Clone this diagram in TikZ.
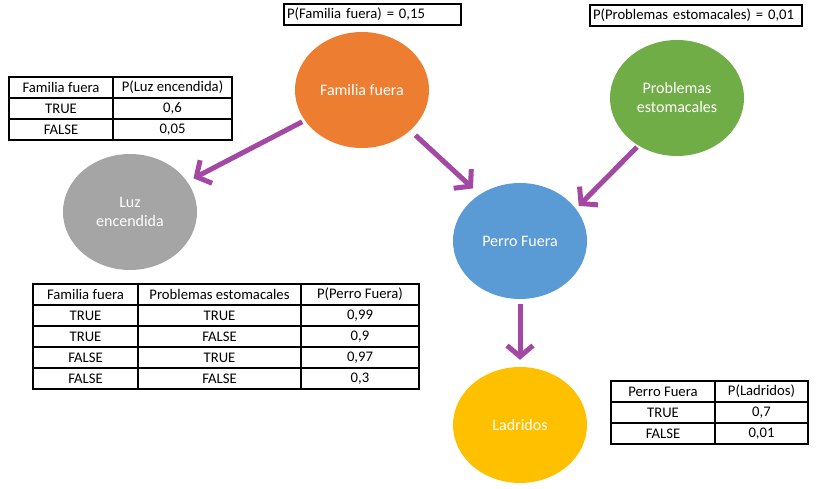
\documentclass[tikz,border=0pt]{standalone}
\usepackage{fontspec}
\setmainfont{Carlito}
\usetikzlibrary{shapes.geometric,arrows.meta,matrix}
\definecolor{naranja}{RGB}{237,125,49}
\definecolor{verde}{RGB}{112,173,71}
\definecolor{gris}{RGB}{165,165,165}
\definecolor{azul}{RGB}{91,155,213}
\definecolor{amarillo}{RGB}{255,192,0}
\definecolor{morado}{RGB}{163,73,164}
\begin{document}
\begin{tikzpicture}[x=1pt,y=-1pt]
		\tikzset{nodo/.style={ellipse,minimum width=134pt,minimum height=116pt,inner sep=0pt,text=white,align=center,font=\fontsize{16}{19}\selectfont},
			arco/.style={draw=morado,line width=5pt,-{Straight Barb[length=11pt,width=26pt]}},
			celda/.style={draw,line width=2pt,minimum height=21pt,inner sep=0pt,anchor=center,font=\fontsize{14.67}{17}\selectfont},
			tabla/.style={matrix of nodes,nodes={celda},column sep=-2pt,row sep=-2pt,inner sep=0pt,outer sep=0pt,anchor=north west},
			caja/.style={draw,line width=2pt,anchor=north west,minimum height=21pt,inner xsep=3pt,inner ysep=0pt,align=left,font=\fontsize{14.67}{17}\selectfont}}
		\fill[white] (0,0) rectangle (816,489);
		\useasboundingbox (0,0) rectangle (816,489);
		%Nodos
		\node[nodo,fill=naranja] (fam) at (362,90) {Familia fuera};
		\node[nodo,fill=verde] (prob) at (677,98) {Problemas\\estomacales};
		\node[nodo,fill=gris] (luz) at (130,212) {Luz\\encendida};
		\node[nodo,fill=azul] (perro) at (520,241) {Perro Fuera};
		\node[nodo,fill=amarillo] (ladr) at (520,425) {Ladridos};
		%Arcos
		\draw[arco,shorten <=3pt,shorten >=7pt] (fam.208) -- (luz.28);
		\draw[arco,shorten <=7pt,shorten >=9pt] (fam.-40) -- (perro.131);
		\draw[arco,shorten <=2pt,shorten >=4pt] (prob.231) -- (perro.30);
		\draw[arco,shorten <=4.5pt,shorten >=7pt] (perro.south) -- (ladr.north);
		%Probabilidades
		\node[caja,text width=171pt] (pfam) at (283,3) {P(Familia fuera) = 0,15};
		\node[caja,text width=206pt] (pprob) at (589,4) {P(Problemas estomacales) = 0,01};
		\matrix (tluz) [tabla,column 1/.style={nodes={minimum width=104pt}},column 2/.style={nodes={minimum width=119pt}}] at (8,76) {
			Familia fuera & P(Luz encendida)\\
			TRUE & 0,6\\
			FALSE & 0,05\\};
		\matrix (tperro) [tabla,column 1/.style={nodes={minimum width=105pt}},column 2/.style={nodes={minimum width=163pt}},column 3/.style={nodes={minimum width=118pt}}] at (32,283) {
			Familia fuera & Problemas estomacales & P(Perro Fuera)\\
			TRUE & TRUE & 0,99\\
			TRUE & FALSE & 0,9\\
			FALSE & TRUE & 0,97\\
			FALSE & FALSE & 0,3\\};
		\matrix (tladr) [tabla,column 1/.style={nodes={minimum width=104pt}},column 2/.style={nodes={minimum width=93pt}}] at (610,380) {
			Perro Fuera & P(Ladridos)\\
			TRUE & 0,7\\
			FALSE & 0,01\\};
	\end{tikzpicture}
\end{document}
